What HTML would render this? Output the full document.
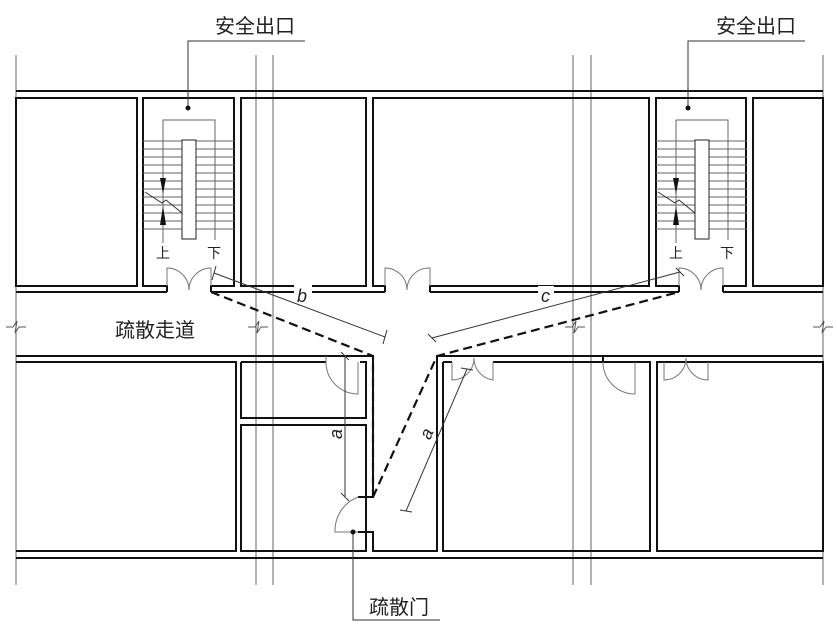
<!DOCTYPE html>
<html><head><meta charset="utf-8"><style>
html,body{margin:0;padding:0;background:#fff;}
svg{display:block}
text{font-family:"Liberation Sans","Noto Sans CJK SC",sans-serif;fill:#222}
</style></head><body>
<svg width="837" height="641" viewBox="0 0 837 641" xmlns="http://www.w3.org/2000/svg">
<defs>
  <g id="st" fill="none" stroke="#666" stroke-width="1">
    <polyline points="163,243 163,120 215,120 215,240"/>
    <line x1="143" y1="141" x2="234" y2="141"/>
    <line x1="143" y1="149" x2="234" y2="149"/><line x1="143" y1="157" x2="234" y2="157"/>
    <line x1="143" y1="165" x2="234" y2="165"/><line x1="143" y1="173" x2="234" y2="173"/>
    <line x1="143" y1="181" x2="234" y2="181"/><line x1="143" y1="189" x2="234" y2="189"/>
    <line x1="143" y1="197" x2="234" y2="197"/><line x1="143" y1="205" x2="234" y2="205"/>
    <line x1="143" y1="213" x2="234" y2="213"/><line x1="143" y1="221" x2="234" y2="221"/>
    <line x1="143" y1="229" x2="234" y2="229"/>
    <rect x="182" y="140" width="14" height="99" fill="#fff" stroke="#222"/>
    <path d="M145,192 L162,203 L166,200 L182,213" stroke="#333"/>
    <polygon points="160,178 166,178 163,194" fill="#111" stroke="none"/>
    <polygon points="160,225 166,225 163,206" fill="#111" stroke="none"/>
  </g>
</defs>
<g fill="none" stroke="#666" stroke-width="1">
  <line x1="16" y1="55" x2="16" y2="585"/>
  <line x1="256" y1="55" x2="256" y2="585"/><line x1="273" y1="55" x2="273" y2="585"/>
  <line x1="573" y1="55" x2="573" y2="585"/><line x1="591" y1="55" x2="591" y2="585"/>
  <line x1="823" y1="55" x2="823" y2="585"/>
</g>
<g fill="none" stroke="#111" stroke-width="2">
  <line x1="16" y1="91" x2="823" y2="91"/>
  <rect x="16" y="98" width="121" height="188"/>
  <polyline points="167,292 167,286 143,286 143,98 234,98 234,286 211,286 211,292"/>
  <rect x="241" y="98" width="125" height="188"/>
  <polyline points="385,292 385,286 373,286 373,98 649,98 649,286 430,286 430,292"/>
  <polyline points="679,292 679,286 656,286 656,98 746,98 746,286 723,286 723,292"/>
  <rect x="753" y="98" width="70" height="188"/>
  <polyline points="16,292 167,292"/>
  <polyline points="211,292 385,292"/>
  <polyline points="430,292 679,292"/>
  <polyline points="723,292 823,292"/>
  <polyline points="16,356 373,356 373,497 358,497"/>
  <polyline points="437,356 823,356"/>
  <polyline points="16,362 236,362 236,551 16,551"/>
  <polyline points="241,362 326,362"/>
  <polyline points="360,362 366,362 366,418 241,418 241,362"/>
  <rect x="241" y="425" width="125" height="126"/>
  <polyline points="437,356 437,551 373,551 373,532 358,532"/>
  <polyline points="443,362 452,362"/>
  <polyline points="493,362 650,362 650,551 443,551 443,362"/>
  <polyline points="603,356 603,362"/>
  <polyline points="644,356 657,356"/>
  <polyline points="657,362 664,362"/>
  <polyline points="708,362 823,362"/>
  <rect x="657" y="362" width="166" height="189"/>
  <line x1="16" y1="558" x2="823" y2="558"/>
</g>
<g fill="none" stroke="#555" stroke-width="1">
  <polyline points="6,327 13,327 17,321 15,333 19,327 26,327"/>
  <polyline points="248,327 255,327 259,321 257,333 261,327 268,327"/>
  <polyline points="565,327 572,327 576,321 574,333 578,327 585,327"/>
  <polyline points="813,327 820,327 824,321 822,333 826,327 833,327"/>
</g>
<g fill="none" stroke="#777" stroke-width="1">
  <path d="M167,286 L167,268 A22,22 0 0 1 189,290 A22,22 0 0 1 211,268 L211,286"/>
  <path d="M385,286 L385,268 A22,22 0 0 1 407,290 A22,22 0 0 1 430,268 L430,286"/>
  <path d="M679,286 L679,268 A22,22 0 0 1 701,290 A22,22 0 0 1 723,268 L723,286"/>
  <path d="M326,356 L326,362 A32,32 0 0 0 358,394 L358,362"/>
  <path d="M452,362 L452,380 A22,22 0 0 0 474,358 A22,22 0 0 0 493,380 L493,362"/>
  <path d="M603,362 A32,32 0 0 0 635,394 L635,362"/>
  <path d="M664,362 L664,380 A22,22 0 0 0 686,358 A22,22 0 0 0 708,380 L708,362"/>
  <path d="M358,497 A36,36 0 0 0 335,532 L358,532"/>
</g>
<use href="#st"/>
<use href="#st" x="513" y="0"/>
<g font-size="14">
  <text x="156" y="258">上</text><text x="207" y="258">下</text>
  <text x="669" y="258">上</text><text x="720" y="258">下</text>
</g>
<g fill="none" stroke="#111" stroke-width="2.2" stroke-dasharray="9,5">
  <polyline points="211,292 373,356 373,497"/>
  <polyline points="373,497 437,356 679,292"/>
</g>
<g fill="none" stroke="#333" stroke-width="1">
  <line x1="214" y1="273" x2="385" y2="337"/>
  <line x1="432" y1="338" x2="680" y2="272"/>
  <line x1="345" y1="356" x2="345" y2="497"/>
  <line x1="406" y1="511" x2="467" y2="369"/>
  <line x1="212" y1="280" x2="216" y2="266"/><line x1="383" y1="344" x2="387" y2="330"/>
  <line x1="428" y1="334" x2="436" y2="342"/><line x1="676" y1="268" x2="684" y2="276"/>
  <line x1="341" y1="352" x2="349" y2="360"/><line x1="341" y1="493" x2="349" y2="501"/>
  <line x1="400" y1="510" x2="412" y2="512"/><line x1="461" y1="368" x2="473" y2="370"/>
</g>
<g font-size="18" font-family="Liberation Serif" font-style="italic">
  <rect x="294" y="284" width="18" height="16" fill="#fff"/>
  <text x="297" y="302">b</text>
  <rect x="538" y="286" width="16" height="14" fill="#fff"/>
  <text x="541" y="302">c</text>
  <text transform="translate(342,434) rotate(-90)" text-anchor="middle">a</text>
  <text transform="translate(432,436) rotate(-67)" text-anchor="middle">a</text>
</g>
<g fill="none" stroke="#333" stroke-width="1">
  <polyline points="188,108 188,41 305,41"/>
  <polyline points="688,108 688,41 805,41"/>
  <polyline points="353,532 353,620 440,620"/>
</g>
<g fill="#111"><circle cx="188" cy="108" r="2.5"/><circle cx="688" cy="108" r="2.5"/><circle cx="353" cy="532" r="2.5"/></g>
<g font-size="20">
  <text x="215" y="33">安全出口</text>
  <text x="716" y="33">安全出口</text>
  <text x="115" y="337">疏散走道</text>
  <text x="369" y="614">疏散门</text>
</g>
</svg>
</body></html>
